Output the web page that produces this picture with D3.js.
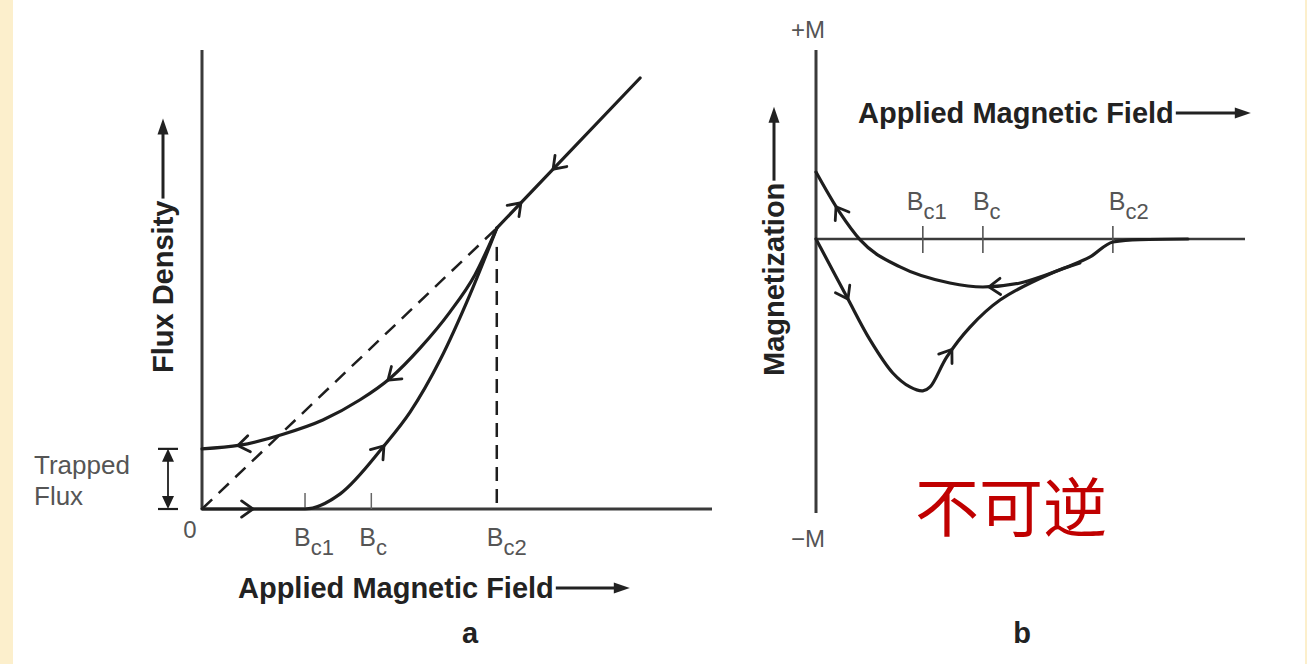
<!DOCTYPE html>
<html>
<head>
<meta charset="utf-8">
<script src="https://cdn.jsdelivr.net/npm/d3@7"></script>
<style>
  html, body { margin: 0; padding: 0; background: #fff; }
  svg { display: block; }
</style>
</head>
<body>
<svg width="1307" height="664"></svg>
<script>
// panel a: flux density vs applied field (arbitrary units 0..100)
var fieldTicksA = [{name: "c1", v: 20.2}, {name: "c", v: 33.2}, {name: "c2", v: 57.8}];
var trappedFlux = 13.1;
var risingCurve = [[0, 0], [20.2, 0], [27.1, 3.3], [35.5, 13.5], [40.8, 21.1], [46.7, 32.5], [52.5, 46.6], [57.8, 61.2]];
var fallingCurve = [[0, 13.1], [7.45, 13.9], [15.9, 16.3], [23.7, 19.4], [31.0, 23.8], [36.9, 28.5], [42.8, 35.1], [48.6, 42.9], [53.5, 51.0], [57.8, 61.2]];
var normalLine = [[57.8, 61.2], [85.9, 93.9]];
var meissnerLine = [[0, 0], [57.8, 61.2]];

// panel b: magnetization vs applied field
var fieldTicksB = [{name: "c1", v: 24.9}, {name: "c", v: 38.9}, {name: "c2", v: 69.2}];
var returnCurve = [[0, 0.354], [5.6, 0.138], [10.3, -0.005], [19.6, -0.148], [31.2, -0.233], [38.9, -0.254], [47.6, -0.233], [58.5, -0.148], [63.9, -0.095], [69.2, -0.016], [75.5, -0.003], [86.7, 0]];
var virginCurve = [[0, 0], [7.2, -0.307], [12.6, -0.534], [17.9, -0.709], [21.9, -0.783], [24.9, -0.804], [26.6, -0.783], [30.5, -0.624], [35.9, -0.466], [42.9, -0.323], [54.5, -0.185], [61.5, -0.127]];

var svg = d3.select("svg");
var ink = "#1e1e1e", axisInk = "#3a3a3a", labelInk = "#555", font = "'Liberation Sans', Arial, sans-serif";

// side strips
svg.append("rect").attr("x", 0).attr("y", 0).attr("width", 13).attr("height", 664).attr("fill", "#fcefcc");
svg.append("rect").attr("x", 1305).attr("y", 0).attr("width", 2).attr("height", 664).attr("fill", "#fcefcc");

var xa = d3.scaleLinear().domain([0, 100]).range([202, 712]),
    ya = d3.scaleLinear().domain([0, 100]).range([509, 50]);
var xb = d3.scaleLinear().domain([0, 100]).range([816, 1245]),
    yb = d3.scaleLinear().domain([-1.45, 1]).range([513, 50]);

function lineFor(x, y, curve) {
    return d3.line().x(function(d) { return x(d[0]); }).y(function(d) { return y(d[1]); }).curve(curve || d3.curveLinear);
}

// open chevron arrow on a path, tip at the point whose x is closest to px
function chevron(node, px, forward) {
    var L = node.getTotalLength(), best = 0, bd = 1e9;
    for (var s = 0; s <= L; s += 0.5) {
        var p = node.getPointAtLength(s);
        if (Math.abs(p.x - px) < bd) { bd = Math.abs(p.x - px); best = s; }
    }
    var tip = node.getPointAtLength(best);
    var o = node.getPointAtLength(forward ? Math.max(0, best - 2) : Math.min(L, best + 2));
    var a = Math.atan2(o.y - tip.y, o.x - tip.x), len = 14, spread = 0.62;
    var p1 = [tip.x + len * Math.cos(a + spread), tip.y + len * Math.sin(a + spread)];
    var p2 = [tip.x + len * Math.cos(a - spread), tip.y + len * Math.sin(a - spread)];
    svg.append("path")
        .attr("d", "M" + p1 + "L" + tip.x + "," + tip.y + "L" + p2)
        .attr("fill", "none").attr("stroke", ink).attr("stroke-width", 2.8)
        .attr("stroke-linejoin", "miter").attr("stroke-linecap", "round");
}

function curvePath(data, x, y, curve) {
    return svg.append("path").attr("d", lineFor(x, y, curve)(data))
        .attr("fill", "none").attr("stroke", ink).attr("stroke-width", 3.2)
        .attr("stroke-linecap", "round").node();
}

// bold title with long filled arrow, horizontal or rotated
function arrowTitle(text, x, y, rotate, arrowLen) {
    var g = svg.append("g").attr("transform", "translate(" + x + "," + y + ")" + (rotate ? " rotate(-90)" : ""));
    var t = g.append("text").attr("x", 0).attr("y", 0)
        .attr("font-family", font).attr("font-weight", "bold").attr("font-size", 29)
        .attr("fill", "#222").text(text);
    var w = t.node().getComputedTextLength();
    g.append("line").attr("x1", w + 2).attr("x2", w + arrowLen - 12).attr("y1", -10).attr("y2", -10)
        .attr("stroke", "#222").attr("stroke-width", 3);
    g.append("path").attr("d", "M" + (w + arrowLen) + ",-10L" + (w + arrowLen - 16) + ",-15.5L" + (w + arrowLen - 16) + ",-4.5Z")
        .attr("fill", "#222");
}

function bLabel(x, y, sub, size) {
    var t = svg.append("text").attr("x", x).attr("y", y)
        .attr("font-family", font).attr("font-size", size).attr("fill", labelInk);
    t.append("tspan").text("B");
    t.append("tspan").attr("dy", 9).attr("font-size", size - 3).text(sub);
}

// ---------- panel a ----------
svg.append("line").attr("x1", xa(0)).attr("x2", xa(0)).attr("y1", ya(100)).attr("y2", ya(0))
    .attr("stroke", axisInk).attr("stroke-width", 3);
svg.append("line").attr("x1", xa(0)).attr("x2", xa(100)).attr("y1", ya(0)).attr("y2", ya(0))
    .attr("stroke", axisInk).attr("stroke-width", 3);

var labelDxA = {c1: -11, c: -12, c2: -10};
fieldTicksA.forEach(function(d) {
    if (d.name !== "c2") {
        svg.append("line").attr("x1", xa(d.v)).attr("x2", xa(d.v)).attr("y1", ya(0)).attr("y2", ya(0) - 16)
            .attr("stroke", "#666").attr("stroke-width", 1.5);
    }
    bLabel(xa(d.v) + labelDxA[d.name], 546, d.name, 25);
});

// dashed Meissner line and Bc2 marker
svg.append("path").attr("d", lineFor(xa, ya)(meissnerLine))
    .attr("fill", "none").attr("stroke", ink).attr("stroke-width", 2.5).attr("stroke-dasharray", "14,9");
svg.append("line").attr("x1", xa(57.8)).attr("x2", xa(57.8)).attr("y1", ya(57.1)).attr("y2", ya(0))
    .attr("stroke", ink).attr("stroke-width", 2.5).attr("stroke-dasharray", "14,8");

var rise = curvePath(risingCurve, xa, ya, d3.curveMonotoneX);
var fall = curvePath(fallingCurve, xa, ya, d3.curveMonotoneX);
var normal = curvePath(normalLine, xa, ya);
chevron(rise, 253, true);
chevron(rise, 384, true);
chevron(fall, 388, false);
chevron(fall, 238, false);
chevron(normal, 521, true);
chevron(normal, 553, false);

svg.append("text").attr("x", 190).attr("y", 538).attr("text-anchor", "middle")
    .attr("font-family", font).attr("font-size", 24).attr("fill", labelInk).text("0");

// trapped flux marker
var tfx = 168;
svg.append("line").attr("x1", tfx).attr("x2", tfx).attr("y1", ya(trappedFlux) + 2).attr("y2", ya(0) - 2)
    .attr("stroke", ink).attr("stroke-width", 1.8);
[ya(trappedFlux), ya(0)].forEach(function(yy, i) {
    svg.append("line").attr("x1", tfx - 10).attr("x2", tfx + 10).attr("y1", yy).attr("y2", yy)
        .attr("stroke", ink).attr("stroke-width", 2.2);
    var dir = i === 0 ? 1 : -1;
    svg.append("path").attr("d", "M" + tfx + "," + yy + "L" + (tfx - 6) + "," + (yy + dir * 13) + "L" + (tfx + 6) + "," + (yy + dir * 13) + "Z")
        .attr("fill", ink);
});
svg.append("text").attr("x", 34).attr("y", 474).attr("font-family", font).attr("font-size", 26)
    .attr("fill", labelInk).text("Trapped");
svg.append("text").attr("x", 34).attr("y", 505).attr("font-family", font).attr("font-size", 26)
    .attr("fill", labelInk).text("Flux");

arrowTitle("Flux Density", 173, 373, true, 82);
arrowTitle("Applied Magnetic Field", 238, 598, false, 76);
svg.append("text").attr("x", 470).attr("y", 643).attr("text-anchor", "middle")
    .attr("font-family", font).attr("font-weight", "bold").attr("font-size", 29).attr("fill", "#222").text("a");

// ---------- panel b ----------
svg.append("line").attr("x1", xb(0)).attr("x2", xb(0)).attr("y1", yb(1)).attr("y2", yb(-1.45))
    .attr("stroke", axisInk).attr("stroke-width", 3);
svg.append("line").attr("x1", xb(0)).attr("x2", xb(100)).attr("y1", yb(0)).attr("y2", yb(0))
    .attr("stroke", axisInk).attr("stroke-width", 2.5);

var labelDxB = {c1: -16, c: -10, c2: -4};
fieldTicksB.forEach(function(d) {
    svg.append("line").attr("x1", xb(d.v)).attr("x2", xb(d.v)).attr("y1", yb(0) - 13).attr("y2", yb(0) + 14)
        .attr("stroke", "#555").attr("stroke-width", 1.6);
    bLabel(xb(d.v) + labelDxB[d.name], 210, d.name, 25);
});

var ret = curvePath(returnCurve, xb, yb, d3.curveMonotoneX);
var virgin = curvePath(virginCurve, xb, yb, d3.curveCatmullRom.alpha(0.5));
chevron(ret, 836, false);
chevron(ret, 989, false);
chevron(virgin, 848, true);
chevron(virgin, 952, true);

svg.append("text").attr("x", 808).attr("y", 38).attr("text-anchor", "middle")
    .attr("font-family", font).attr("font-size", 24).attr("fill", labelInk).text("+M");
svg.append("text").attr("x", 808).attr("y", 547).attr("text-anchor", "middle")
    .attr("font-family", font).attr("font-size", 24).attr("fill", labelInk).text("\u2212M");

arrowTitle("Applied Magnetic Field", 858, 123, false, 77);
arrowTitle("Magnetization", 784, 376, true, 76);
svg.append("text").attr("x", 1022).attr("y", 643).attr("text-anchor", "middle")
    .attr("font-family", font).attr("font-weight", "bold").attr("font-size", 29).attr("fill", "#222").text("b");

svg.append("text").attr("x", 1011).attr("y", 531).attr("text-anchor", "middle")
    .attr("font-family", "'Noto Sans CJK SC', sans-serif").attr("font-size", 64).attr("fill", "#c00000").text("不可逆");
</script>
</body>
</html>
